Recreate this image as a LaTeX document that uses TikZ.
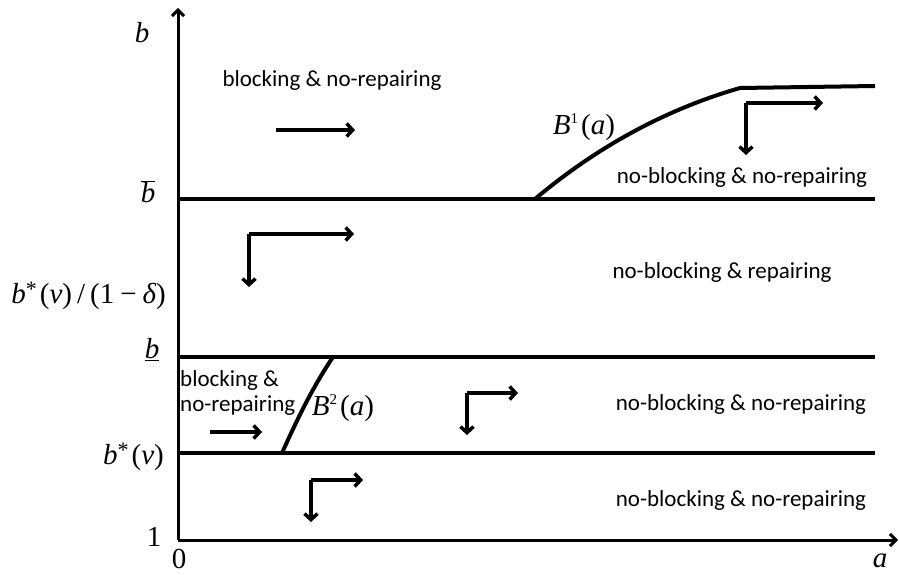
\documentclass[tikz,border=0pt]{standalone}
\usepackage{fontspec}
\setmainfont{Carlito}
\newfontfamily\mserif{Liberation Serif}
\usetikzlibrary{arrows.meta}
\newcommand{\mitl}[1]{{\mserif\itshape #1}}
\newcommand{\mupr}[1]{{\mserif #1}}
\newcommand{\mstar}{\raisebox{0.55ex}{\fontsize{22}{22}\selectfont\mupr{*}}}
\begin{document}
\begin{tikzpicture}[x=1pt,y=1pt,
  band/.style={line width=4pt},
  axisline/.style={line width=3pt,-{Straight Barb[length=6pt,width=12pt]}},
  flow/.style={line width=3.5pt,-{Straight Barb[length=6pt,width=13pt]}},
  curve/.style={line width=4pt},
  region/.style={inner sep=0pt,font=\fontsize{23}{27}\selectfont},
  mlabel/.style={inner sep=0pt,font=\fontsize{29}{32}\selectfont}]
\useasboundingbox (0,0) rectangle (899,574);
% axes
\coordinate (O) at (178,34);
\coordinate (Ytop) at (178,566);
\coordinate (Xend) at (898,34);
\draw[axisline] (O) -- (Ytop);
\draw[axisline] (O) -- (Xend);
% horizontal bands
\coordinate (bbarL) at (178,375); \coordinate (bbarR) at (875,375);
\coordinate (bunL) at (178,217); \coordinate (bunR) at (875,217);
\coordinate (bsL) at (178,121); \coordinate (bsR) at (875,121);
\draw[band] (bbarL) -- (bbarR);
\draw[band] (bunL) -- (bunR);
\draw[band] (bsL) -- (bsR);
% B1 curve
\coordinate (B1s) at (535,375);
\coordinate (B1k) at (740,486);
\coordinate (B1e) at (875,488);
\draw[curve,line join=round] (B1s) .. controls (598,428) and (667,465) .. (B1k) -- (B1e);
% B2 curve
\coordinate (B2s) at (282,121);
\coordinate (B2e) at (333,217);
\draw[curve] (B2s) .. controls (296,152) and (312,186) .. (B2e);
% flow arrows
\coordinate (a1s) at (276,444); \coordinate (a1e) at (355,444);
\draw[flow] (a1s) -- (a1e);
\coordinate (c1) at (746,471); \coordinate (c1r) at (823,471); \coordinate (c1d) at (746,419);
\draw[flow] (c1) -- (c1r);
\draw[flow] (c1) -- (c1d);
\coordinate (c2) at (249,340); \coordinate (c2r) at (354,340); \coordinate (c2d) at (249,287);
\draw[flow] (c2) -- (c2r);
\draw[flow] (c2) -- (c2d);
\coordinate (a2s) at (210,142); \coordinate (a2e) at (262,142);
\draw[flow] (a2s) -- (a2e);
\coordinate (c3) at (467,181); \coordinate (c3r) at (518,181); \coordinate (c3d) at (467,139);
\draw[flow] (c3) -- (c3r);
\draw[flow] (c3) -- (c3d);
\coordinate (c4) at (311,94); \coordinate (c4r) at (363,94); \coordinate (c4d) at (311,52);
\draw[flow] (c4) -- (c4r);
\draw[flow] (c4) -- (c4d);
\draw[line cap=rect,line width=3.5pt] (c1) -- +(0,0) (c2) -- +(0,0) (c3) -- +(0,0) (c4) -- +(0,0);
% region texts
\node[region] (t1) at (332,494) {blocking \& no-repairing};
\node[region] (t2) at (742,397) {no-blocking \& no-repairing};
\node[region] (t3) at (722,302) {no-blocking \& repairing};
\node[region,anchor=west] (t4) at (180,194) {blocking \&};
\node[region,anchor=west] (t5) at (180,168) {no-repairing};
\node[region] (t6) at (741,170) {no-blocking \& no-repairing};
\node[region] (t7) at (741,74) {no-blocking \& no-repairing};
% curve labels
\node[mlabel] (lB1) at (584,447) {\mitl{B}\raisebox{0.8ex}{\fontsize{15}{15}\selectfont\mupr{1}}\kern3pt\mupr{(}\mitl{a}\mupr{)}};
\node[mlabel] (lB2) at (343,166) {\mitl{B}\raisebox{0.8ex}{\fontsize{15}{15}\selectfont\mupr{2}}\kern3pt\mupr{(}\mitl{a}\mupr{)}};
% axis labels
\node[mlabel] (lb) at (142,541) {\mitl{b}};
\node[mlabel] (lbbar) at (148,382) {$\overline{\hbox{\mitl{b}}}$};
\node[mlabel,anchor=east] (lbd) at (166,278) {\mitl{b}\mstar\kern3pt\mupr{(}\mitl{ν}\mupr{)}\kern5pt\mupr{/}\kern5pt\mupr{(1}\kern6pt\mupr{−}\kern6pt\mitl{δ}\mupr{)}};
\node[mlabel] (lbun) at (152,224) {$\underline{\hbox{\mitl{b}}}$};
\node[mlabel,anchor=east] (lbs) at (164,117) {\mitl{b}\mstar\kern3pt\mupr{(}\mitl{ν}\mupr{)}};
\node[mlabel] (l1) at (154,37) {\mupr{1}};
\node[mlabel] (l0) at (179,15) {\mupr{0}};
\node[mlabel] (la) at (880,13) {\mitl{a}};
\end{tikzpicture}
\end{document}
